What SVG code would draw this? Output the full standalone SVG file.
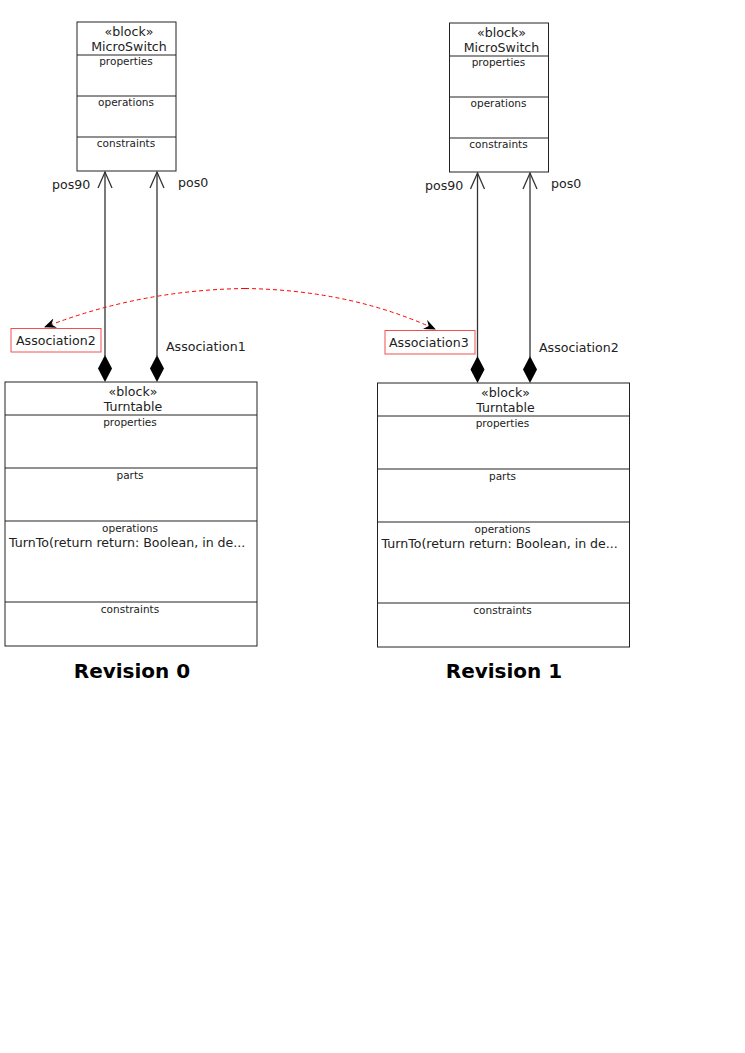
<svg xmlns="http://www.w3.org/2000/svg" width="745" height="1053" viewBox="0 0 745 1053">
<style>
.box{fill:#fff;stroke:#222;stroke-width:1}
.div{stroke:#222;stroke-width:1}
.t12{font-family:"DejaVu Sans",sans-serif;font-size:12.6px;fill:#222}
.t10{font-family:"DejaVu Sans",sans-serif;font-size:10.5px;fill:#222}
.c{text-anchor:middle}
.ln{stroke:#333;stroke-width:1.3;fill:none}
.lbl{fill:#fff;stroke:#f05050;stroke-width:1}
.rev{font-family:"DejaVu Sans",sans-serif;font-size:20px;font-weight:bold;fill:#000;text-anchor:middle}
</style>
<defs>
<marker id="dep" viewBox="0 0 12 10" refX="11" refY="5" markerWidth="12" markerHeight="10" markerUnits="userSpaceOnUse" orient="auto">
<path d="M0,0 L12,5 L0,10 L4,5 Z" fill="#000"/>
</marker>
</defs>
<g id="connectors">
<g id="assoc1">
<path class="ln" d="M105,172 V356"/>
<path class="ln" d="M98,188 L105,172 L112,188"/>
<path d="M105,355 L112,368.5 L105,382 L98,368.5 Z" fill="#000"/>
<path class="ln" d="M157,172 V356"/>
<path class="ln" d="M150,188 L157,172 L164,188"/>
<path d="M157,355 L164,368.5 L157,382 L150,368.5 Z" fill="#000"/>
</g>
<g id="assoc2">
<path class="ln" d="M477.5,173 V357"/>
<path class="ln" d="M470.5,189 L477.5,173 L484.5,189"/>
<path d="M477.5,356 L484.5,369.5 L477.5,383 L470.5,369.5 Z" fill="#000"/>
<path class="ln" d="M530,173 V357"/>
<path class="ln" d="M523,189 L530,173 L537,189"/>
<path d="M530,356 L537,369.5 L530,383 L523,369.5 Z" fill="#000"/>
</g>
<path d="M245,288.5 Q140,290 45,327" fill="none" stroke="#f00" stroke-width="1" stroke-dasharray="4,3" marker-end="url(#dep)"/>
<path d="M245,288.5 Q350,290 435,329" fill="none" stroke="#f00" stroke-width="1" stroke-dasharray="4,3" marker-end="url(#dep)"/>
</g>
<g id="ms0">
<rect class="box" x="77" y="22" width="99" height="149"/>
<line class="div" x1="77" y1="55" x2="176" y2="55"/>
<line class="div" x1="77" y1="96" x2="176" y2="96"/>
<line class="div" x1="77" y1="137" x2="176" y2="137"/>
<text class="t12 c" x="129" y="36">«block»</text>
<text class="t12 c" x="129" y="51">MicroSwitch</text>
<text class="t10 c" x="126" y="65">properties</text>
<text class="t10 c" x="126" y="106">operations</text>
<text class="t10 c" x="126" y="147">constraints</text>
</g>
<g id="ms1">
<rect class="box" x="449.5" y="23" width="99" height="149"/>
<line class="div" x1="449.5" y1="56" x2="548.5" y2="56"/>
<line class="div" x1="449.5" y1="97" x2="548.5" y2="97"/>
<line class="div" x1="449.5" y1="138" x2="548.5" y2="138"/>
<text class="t12 c" x="501.5" y="37">«block»</text>
<text class="t12 c" x="501.5" y="52">MicroSwitch</text>
<text class="t10 c" x="498.5" y="66">properties</text>
<text class="t10 c" x="498.5" y="107">operations</text>
<text class="t10 c" x="498.5" y="148">constraints</text>
</g>
<g id="tt0">
<rect class="box" x="5" y="382" width="252" height="264"/>
<line class="div" x1="5" y1="415" x2="257" y2="415"/>
<line class="div" x1="5" y1="468" x2="257" y2="468"/>
<line class="div" x1="5" y1="521" x2="257" y2="521"/>
<line class="div" x1="5" y1="602" x2="257" y2="602"/>
<text class="t12 c" x="133" y="396">«block»</text>
<text class="t12 c" x="133" y="411">Turntable</text>
<text class="t10 c" x="130" y="426">properties</text>
<text class="t10 c" x="130" y="479">parts</text>
<text class="t10 c" x="130" y="532">operations</text>
<text class="t12" x="9" y="547">TurnTo(return return: Boolean, in de...</text>
<text class="t10 c" x="130" y="613">constraints</text>
</g>
<g id="tt1">
<rect class="box" x="377.5" y="383" width="252" height="264"/>
<line class="div" x1="377.5" y1="416" x2="629.5" y2="416"/>
<line class="div" x1="377.5" y1="469" x2="629.5" y2="469"/>
<line class="div" x1="377.5" y1="522" x2="629.5" y2="522"/>
<line class="div" x1="377.5" y1="603" x2="629.5" y2="603"/>
<text class="t12 c" x="505.5" y="397">«block»</text>
<text class="t12 c" x="505.5" y="412">Turntable</text>
<text class="t10 c" x="502.5" y="427">properties</text>
<text class="t10 c" x="502.5" y="480">parts</text>
<text class="t10 c" x="502.5" y="533">operations</text>
<text class="t12" x="381.5" y="548">TurnTo(return return: Boolean, in de...</text>
<text class="t10 c" x="502.5" y="614">constraints</text>
</g>
<g id="labels">
<text class="t12" x="52" y="189">pos90</text>
<text class="t12" x="178" y="187">pos0</text>
<text class="t12" x="166" y="351">Association1</text>
<text class="t12" x="425" y="190">pos90</text>
<text class="t12" x="551" y="188">pos0</text>
<text class="t12" x="539" y="352">Association2</text>
</g>
<g id="lblA2">
<rect class="lbl" x="11" y="328.5" width="90" height="23.5"/>
<text class="t12" x="16" y="345">Association2</text>
</g>
<g id="lblA3">
<rect class="lbl" x="385" y="330.5" width="90" height="23.5"/>
<text class="t12" x="389" y="347">Association3</text>
</g>
<text class="rev" x="132" y="678">Revision 0</text>
<text class="rev" x="504" y="678">Revision 1</text>
</svg>
